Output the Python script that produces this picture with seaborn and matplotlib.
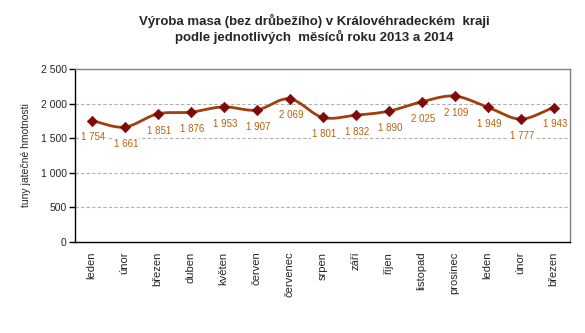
import numpy as np
import pandas as pd
import matplotlib
matplotlib.use("Agg")
import matplotlib.pyplot as plt
from matplotlib.ticker import FixedLocator, FuncFormatter
import seaborn as sns

months = ["leden", "únor", "březen", "duben", "květen", "červen", "červenec",
          "srpen", "září", "říjen", "listopad", "prosinec", "leden", "únor", "březen"]
values = [1754, 1661, 1851, 1876, 1953, 1907, 2069, 1801, 1832, 1890, 2025, 2109, 1949, 1777, 1943]
y_ticks = [0, 500, 1000, 1500, 2000, 2500]

title = "Výroba masa (bez drůbežího) v Královéhradeckém  kraji\npodle jednotlivých  měsíců roku 2013 a 2014"
ylabel = "tuny jatečné hmotnosti"

sns.set_style("white")
plt.rcParams['font.family'] = ['Liberation Sans', 'DejaVu Sans']

LINE = "#A0400C"
MARK = "#7F0A0A"
LBL = "#B8620E"


def fmt(v, pos=None):
    return f"{int(v):,}".replace(",", " ")


# Smoothed path (Catmull-Rom, like Excel's smoothed line) built from the data
x = np.arange(len(values), dtype=float)
y = np.array(values, dtype=float)
px = np.concatenate([[2 * x[0] - x[1]], x, [2 * x[-1] - x[-2]]])
py = np.concatenate([[2 * y[0] - y[1]], y, [2 * y[-1] - y[-2]]])
sx, sy = [], []
for i in range(1, len(px) - 2):
    t = np.linspace(0, 1, 25, endpoint=(i == len(px) - 3))
    for arr, out in ((px, sx), (py, sy)):
        p0, p1, p2, p3 = arr[i - 1], arr[i], arr[i + 1], arr[i + 2]
        seg = 0.5 * ((2 * p1) + (-p0 + p2) * t + (2 * p0 - 5 * p1 + 4 * p2 - p3) * t ** 2
                     + (-p0 + 3 * p1 - 3 * p2 + p3) * t ** 3)
        out.extend(seg)
smooth = pd.DataFrame({"x": sx, "y": sy})
pts = pd.DataFrame({"x": x, "y": y})

fig = plt.figure(figsize=(5.85, 3.33), dpi=100)
ax = fig.add_axes([75 / 585, 1 - 242 / 333, 495 / 585, 173 / 333])

sns.lineplot(data=smooth, x="x", y="y", ax=ax, color=LINE, linewidth=2.0, sort=False,
             estimator=None, zorder=3)
sns.scatterplot(data=pts, x="x", y="y", ax=ax, marker="D", s=28, color=MARK,
                edgecolor=MARK, linewidth=0.5, zorder=4)

for xi, v in zip(x, values):
    ax.annotate(fmt(v), (xi, v), xytext=(1, -12), textcoords="offset points",
                ha="center", va="center", fontsize=7, color=LBL, zorder=5,
                bbox=dict(boxstyle="square,pad=0.1", fc="white", ec="none"))

ax.set_xlim(-0.5, len(values) - 0.5)
ax.set_ylim(0, 2500)
ax.yaxis.set_major_locator(FixedLocator(y_ticks))
ax.yaxis.set_major_formatter(FuncFormatter(fmt))
for g in y_ticks[1:-1]:
    ax.axhline(g, color="#B0B0B0", linestyle=(0, (3, 2)), linewidth=0.8, zorder=1)

ax.set_xticks(x)
ax.set_xticklabels(months, rotation=90, va="top", ha="center", fontsize=8)
ax.set_xticks(np.arange(-0.5, len(values), 1.0), minor=True)
ax.tick_params(axis="x", which="major", length=0, pad=7)
ax.tick_params(axis="x", which="minor", length=45, width=1.0, color="black", direction="out")
ax.tick_params(axis="y", which="major", length=4, width=1.0, color="black", direction="out",
               labelsize=7.5, pad=2, left=True)
ax.set_xlabel("")
ax.set_ylabel(ylabel, fontsize=7.5, labelpad=7)

for side in ("left", "bottom"):
    ax.spines[side].set_color("black")
    ax.spines[side].set_linewidth(1.0)
for side in ("top", "right"):
    ax.spines[side].set_color("#808080")
    ax.spines[side].set_linewidth(1.0)

fig.text(314 / 585, 1 - 29 / 333, title, ha="center", va="center", fontsize=9.5,
         fontweight="bold", linespacing=1.2)

fig.savefig("out.png", dpi=100, facecolor="white")
